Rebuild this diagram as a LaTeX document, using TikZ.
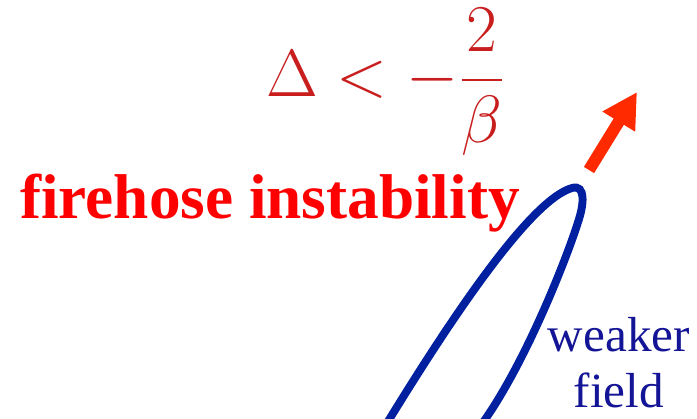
\documentclass[tikz,border=0pt]{standalone}
\usepackage[no-math]{fontspec}
\usepackage{graphicx}
\usepackage{tikz}
\usetikzlibrary{arrows.meta}
\newfontfamily\labelfont{Liberation Serif}
\definecolor{condred}{RGB}{200,30,30}
\definecolor{arrowred}{RGB}{255,42,0}
\definecolor{loopblue}{RGB}{0,32,160}
\definecolor{textblue}{RGB}{20,20,150}

\begin{document}
\begin{tikzpicture}[>=Latex, x=0.02cm, y=-0.02cm]
    \useasboundingbox (0,0) rectangle (697,419);
    \node[text=condred, font=\fontsize{36}{40}\selectfont] (cond) at (386,82) {\scalebox{1.53}{$\displaystyle \Delta < -\frac{2}{\beta}$}};
    \node[text=red, anchor=base west, font=\labelfont\bfseries\fontsize{36}{40}\selectfont] (fire) at (14,218) {firehose instability};
    \node[text=textblue, align=center, font=\labelfont\fontsize{28}{32}\selectfont] (weak) at (619,363) {weaker\\field};
    \coordinate (arrtail) at (589,170);
    \coordinate (arrtip) at (637,92);
    \draw[arrowred, line width=6.8pt, -{Triangle[width=20.4pt, length=19.8pt]}] (arrtail) -- (arrtip);
    \begin{scope}
      \clip (0,0) rectangle (697,419);
      \draw[loopblue, line width=4.5pt, line cap=round] (384,428) .. controls (450,320) and (530,200) .. (572,188)
        .. controls (586,184) and (584,205) .. (578,222)
        .. controls (572,243) and (528,362) .. (479,428);
    \end{scope}
  \end{tikzpicture}
\end{document}
